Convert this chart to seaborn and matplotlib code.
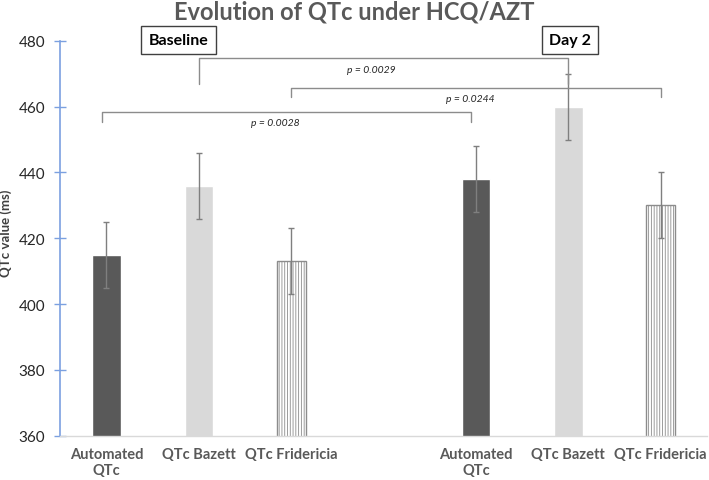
"""
Evolution of QTc under HCQ/AZT - grouped bars with significance brackets
"""

import matplotlib
matplotlib.use('Agg')
import pandas as pd
import matplotlib.pyplot as plt
import seaborn as sns

# data
slots = ['b_auto', 'b_bazett', 'b_frid', 'gap', 'd_auto', 'd_bazett', 'd_frid']
tick_labels = ['Automated\nQTc', 'QTc Bazett', 'QTc Fridericia', '',
               'Automated\nQTc', 'QTc Bazett', 'QTc Fridericia']
qtc_mean = [415, 436, 413, None, 438, 460, 430]
qtc_err = [10, 10, 10, None, 10, 10, 10]
method = ['auto', 'bazett', 'frid', None, 'auto', 'bazett', 'frid']

# comparisons (left slot, right slot, p-value)
comp_left = ['b_bazett', 'b_frid', 'b_auto']
comp_right = ['d_bazett', 'd_frid', 'd_auto']
comp_p = ['p = 0.0029', 'p = 0.0244', 'p = 0.0028']

df = pd.DataFrame({'slot': slots, 'qtc': qtc_mean, 'err': qtc_err, 'method': method})
df_bars = df.dropna()

sns.set_theme(style='white')
plt.rcParams['font.family'] = ['Lato', 'DejaVu Sans']
plt.rcParams['hatch.color'] = '#cfcfcf'
plt.rcParams['hatch.linewidth'] = 0.6

colors = {'b_auto': '#595959', 'd_auto': '#595959',
          'b_bazett': '#d9d9d9', 'd_bazett': '#d9d9d9',
          'b_frid': 'white', 'd_frid': 'white'}

fig, ax = plt.subplots(figsize=(7.09, 4.81), dpi=100)
fig.subplots_adjust(left=0.085, right=0.997, bottom=0.092, top=0.913)

sns.barplot(data=df_bars, x='slot', y='qtc', order=slots, hue='slot',
            palette=colors, width=0.31, errorbar=None, legend=False, ax=ax)

# Fridericia bars: vertical hatch + gray edge
for p, s in zip(ax.patches, [s for s in slots if s != 'gap']):
    if 'frid' in s:
        p.set_hatch('||||||')
        p.set_edgecolor('#8c8c8c')
        p.set_linewidth(1.0)

# error bars
pos = {s: i for i, s in enumerate(slots)}
ax.errorbar([pos[s] for s in df_bars['slot']], df_bars['qtc'], yerr=df_bars['err'],
            fmt='none', ecolor='#7f7f7f', elinewidth=1.0, capsize=2.5, capthick=1.0)

# significance brackets
br_top = [474.8, 465.7, 458.4]
br_end = [467.0, 462.8, 455.4]
txt_x = [2.87, 3.94, 1.83]
txt_y = [471.4, 462.6, 455.2]
for l, r, p, top, end, tx, ty in zip(comp_left, comp_right, comp_p, br_top, br_end, txt_x, txt_y):
    x0, x1 = pos[l], pos[r]
    if l == 'b_auto':
        x0, x1 = x0 - 0.05, x1 - 0.05
    ax.plot([x0, x0, x1, x1], [end, top, top, end], color='#8c8c8c', lw=1.0, clip_on=False)
    ax.text(tx, ty, p, ha='center', va='center', fontsize=7.5, style='italic', color='#262626')

# group labels
box = dict(boxstyle='square,pad=0.45', fc='white', ec='#404040', lw=1.0)
ax.text(0.78, 480.2, 'Baseline', ha='center', va='center', fontsize=11.5, fontweight='bold',
        color='black', bbox=box, clip_on=False)
ax.text(5.02, 480.2, 'Day 2', ha='center', va='center', fontsize=11.5, fontweight='bold',
        color='black', bbox=box, clip_on=False)

ax.set_ylim(360, 480)
ax.set_xlim(-0.5, 6.5)
ax.set_yticks(range(360, 481, 20))
ax.set_xticks(range(len(slots)))
ax.set_xticklabels(tick_labels, fontsize=10.5, fontweight='bold', color='#595959',
                   linespacing=1.15)
ax.tick_params(axis='x', length=0, pad=8)
ax.tick_params(axis='y', left=True, direction='inout', length=8, width=1.0, color='#7ba0e0',
               labelsize=11, labelcolor='#262626', pad=7)
ax.set_xlabel('')
ax.set_ylabel('QTc value (ms)', fontsize=9.5, fontweight='bold', color='#404040')
ax.yaxis.set_label_coords(-0.074, 0.515)

for side in ['top', 'right']:
    ax.spines[side].set_visible(False)
ax.spines['left'].set_color('#7ba0e0')
ax.spines['left'].set_linewidth(1.2)
ax.spines['bottom'].set_color('#d9d9d9')
ax.spines['bottom'].set_linewidth(1.0)

fig.suptitle('Evolution of QTc under HCQ/AZT', fontsize=17, fontweight='bold',
             color='#595959', x=0.5, y=0.998)

plt.savefig('out.png', dpi=100)
